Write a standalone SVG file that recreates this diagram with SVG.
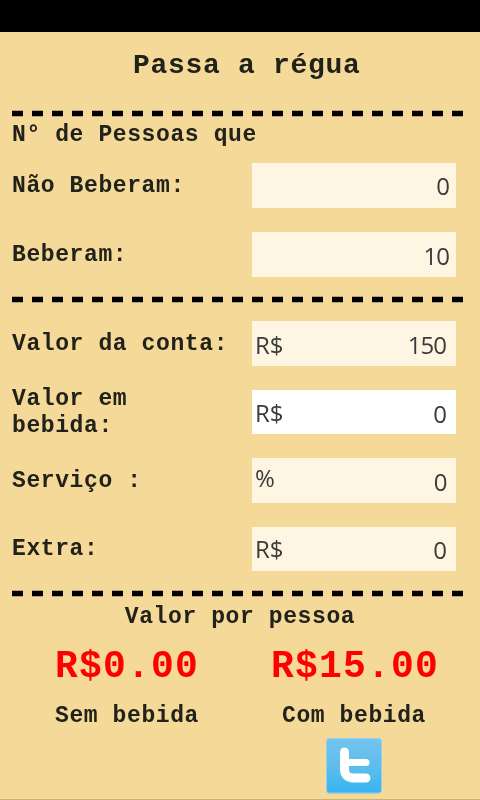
<svg xmlns="http://www.w3.org/2000/svg" width="480" height="800" viewBox="0 0 480 800">
<style>
.l{font-family:"Liberation Mono",monospace;font-weight:700;font-size:23px;letter-spacing:.6px;fill:#22221a}
.f{fill:#fef6e3}
.v{font-family:"Open Sans","Noto Sans",sans-serif;font-size:24px;fill:#3a3a3a}
.e{text-anchor:end;letter-spacing:-1px}
.d{stroke:#000;stroke-width:5.500;stroke-dasharray:11 9;fill:none}
.r{font-family:"Liberation Mono",monospace;font-weight:700;font-size:38px;letter-spacing:1.200px;fill:#f00}
</style>
<defs>
<linearGradient id="tw" x1="0" y1="0" x2="0" y2="1"><stop offset="0" stop-color="#74c4ee"/><stop offset=".55" stop-color="#5cbcec"/><stop offset="1" stop-color="#36b4f2"/></linearGradient>
<filter id="soft" x="0" y="0" width="100%" height="100%"><feGaussianBlur stdDeviation=".4"/></filter>
</defs>
<g filter="url(#soft)">
<rect width="480" height="800" fill="#f5d998"/>
<rect id="bottom-edge" y="799" width="480" height="1" fill="#c9b27c"/>
<rect id="top-bar" width="480" height="32" fill="#000"/>
<text id="title" class="l" x="133" y="73" style="font-size:28px;letter-spacing:.7px">Passa a régua</text>
<g id="dividers">
<path class="d" d="M12 113.500H463"/>
<path class="d" d="M12 299.500H463"/>
<path class="d" d="M12 593.500H463"/>
</g>
<text id="heading" class="l" x="12" y="141">N° de Pessoas que</text>
<g id="nao-beberam"><text class="l" x="12" y="192">Não Beberam:</text><rect class="f" x="252" y="163" width="204" height="45"/><text class="v e" x="449" y="195">0</text></g>
<g id="beberam"><text class="l" x="12" y="261">Beberam:</text><rect class="f" x="252" y="232" width="204" height="45"/><text class="v e" x="449" y="265">10</text></g>
<g id="valor-conta"><text class="l" x="12" y="350">Valor da conta:</text><rect class="f" x="252" y="321" width="204" height="45"/><text class="v" x="255" y="354">R$</text><text class="v e" x="446" y="354">150</text></g>
<g id="valor-bebida"><text class="l" x="12" y="405">Valor em</text><text class="l" x="12" y="432">bebida:</text><rect x="252" y="390" width="204" height="44" fill="#fff"/><text class="v" x="255" y="422">R$</text><text class="v e" x="446" y="422.500">0</text></g>
<g id="servico"><text class="l" x="12" y="487">Serviço :</text><rect class="f" x="252" y="458" width="204" height="45"/><text class="v" x="255" y="487">%</text><text class="v e" x="446.500" y="490.500">0</text></g>
<g id="extra"><text class="l" x="12" y="555">Extra:</text><rect class="f" x="252" y="527" width="204" height="44"/><text class="v" x="255" y="558">R$</text><text class="v e" x="446" y="558.500">0</text></g>
<text id="valor-pessoa" class="l" x="240" y="623" text-anchor="middle">Valor por pessoa</text>
<g id="sem-bebida"><text class="r" x="55" y="677">R$0.00</text><text class="l" x="55" y="722">Sem bebida</text></g>
<g id="com-bebida"><text class="r" x="271" y="677">R$15.00</text><text class="l" x="282" y="722">Com bebida</text></g>
<g id="twitter">
<rect x="327" y="739" width="54" height="55" rx="3" fill="#c9b27c" opacity=".6"/>
<rect x="326.500" y="738.500" width="55" height="54.500" rx="3" fill="url(#tw)" stroke="#8fd3ee"/>
<path d="M344.500 752V769Q344.500 778 354 778H366" fill="none" stroke="#fff" stroke-width="9" stroke-linecap="round" stroke-linejoin="round"/>
<path d="M345 762.500H366" fill="none" stroke="#fff" stroke-width="7" stroke-linecap="round"/>
</g>
</g>
</svg>
